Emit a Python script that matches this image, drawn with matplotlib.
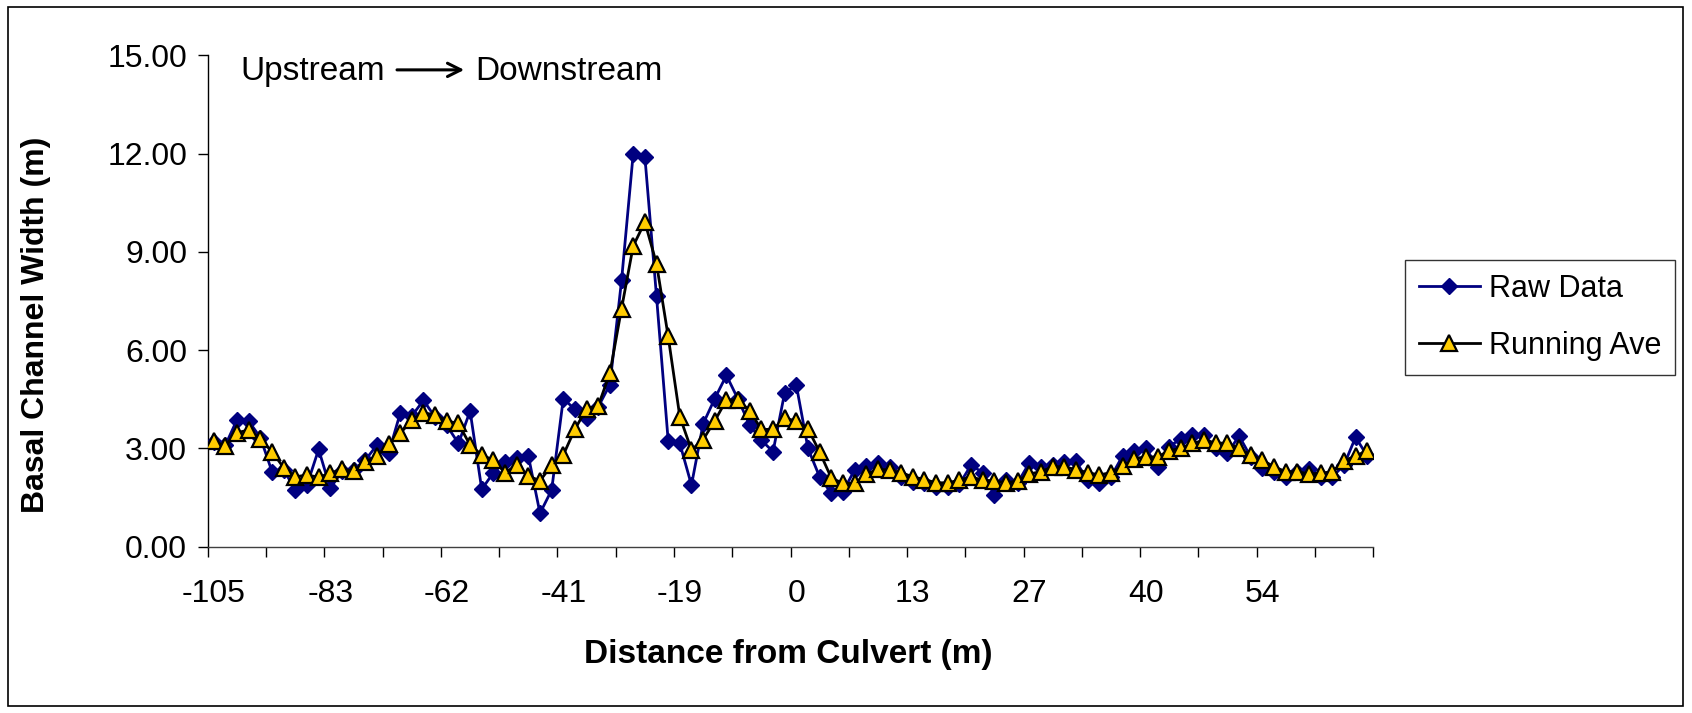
import numpy as np
import matplotlib.pyplot as plt
from matplotlib.patches import Rectangle

plt.rcParams['font.family'] = ['Liberation Sans', 'DejaVu Sans']

# Category labels shown on the x axis (every 10th station)
tick_labels = ['-105', '-83', '-62', '-41', '-19', '0', '13', '27', '40', '54']

# Basal channel width, raw measurements (m)
raw = [3.20, 3.10, 3.88, 3.83, 3.33, 2.29, 2.35, 1.73, 1.88, 2.97,
       1.78, 2.30, 2.35, 2.64, 3.10, 2.85, 4.07, 3.99, 4.47, 3.95,
       3.70, 3.15, 4.14, 1.75, 2.26, 2.59, 2.72, 2.77, 1.02, 1.73,
       4.52, 4.19, 3.92, 4.27, 4.95, 8.13, 12.00, 11.91, 7.64, 3.24,
       3.15, 1.88, 3.75, 4.52, 5.23, 4.50, 3.71, 3.25, 2.90, 4.70,
       4.93, 3.00, 2.13, 1.63, 1.68, 2.34, 2.46, 2.54, 2.44, 2.13,
       1.98, 1.95, 1.81, 1.83, 1.91, 2.49, 2.26, 1.58, 2.05, 1.95,
       2.56, 2.44, 2.49, 2.57, 2.60, 2.03, 1.95, 2.13, 2.77, 2.93,
       3.00, 2.44, 3.05, 3.30, 3.41, 3.41, 3.00, 2.85, 3.38, 2.74,
       2.39, 2.29, 2.13, 2.29, 2.36, 2.13, 2.13, 2.49, 3.34, 2.77]

# Running average (m)
run_ave = [3.22, 3.07, 3.48, 3.56, 3.28, 2.90, 2.41, 2.13, 2.19, 2.12,
           2.24, 2.37, 2.31, 2.57, 2.77, 3.12, 3.46, 3.86, 4.09, 4.02,
           3.84, 3.76, 3.10, 2.80, 2.64, 2.26, 2.49, 2.16, 2.01, 2.49,
           2.80, 3.59, 4.21, 4.30, 5.30, 7.27, 9.18, 9.91, 8.64, 6.42,
           3.97, 2.95, 3.27, 3.84, 4.48, 4.48, 4.15, 3.58, 3.58, 3.92,
           3.84, 3.60, 2.89, 2.10, 1.93, 1.93, 2.21, 2.36, 2.34, 2.26,
           2.13, 2.05, 1.95, 1.95, 2.03, 2.13, 2.03, 2.01, 1.95, 2.01,
           2.22, 2.29, 2.44, 2.44, 2.35, 2.26, 2.19, 2.26, 2.46, 2.69,
           2.74, 2.74, 2.93, 3.00, 3.15, 3.25, 3.17, 3.15, 3.00, 2.80,
           2.64, 2.44, 2.29, 2.29, 2.22, 2.24, 2.29, 2.62, 2.77, 2.93]

x = np.arange(len(raw))

fig = plt.figure(figsize=(16.92, 7.13), dpi=100)
ax = fig.add_axes([0.1229, 0.2333, 0.6886, 0.6891])

ax.plot(x, raw, color='#000080', lw=2, marker='D', ms=8.5,
        mfc='#000080', mec='#000080', label='Raw Data', zorder=3)
ax.plot(x, run_ave, color='black', lw=2, marker='^', ms=11,
        mfc='#FFCC00', mec='black', mew=1.6, label='Running Ave', zorder=4)

ax.set_xlim(-0.5, len(raw) - 0.5)
ax.set_ylim(0, 15)
ax.set_yticks(np.arange(0, 15.1, 3))
ax.set_yticklabels(['%.2f' % v for v in np.arange(0, 15.1, 3)])

# labels every 10 categories, tick marks every 5 category boundaries
ax.set_xticks(np.arange(0, 100, 10))
ax.set_xticklabels(tick_labels)
ax.set_xticks(np.arange(-0.5, 100, 5), minor=True)
ax.tick_params(axis='x', which='major', length=0, pad=23, labelsize=23)
ax.tick_params(axis='x', which='minor', length=7, width=1, direction='out')
ax.tick_params(axis='y', length=7, width=1, direction='out', pad=8, labelsize=23)

for s in ['top', 'right']:
    ax.spines[s].set_visible(False)
ax.spines['left'].set_linewidth(1)
ax.spines['bottom'].set_linewidth(1)
ax.spines['bottom'].set_color('#404040')

fig.text(0.0213, 0.545, 'Basal Channel Width (m)', rotation=90, fontsize=23,
         fontweight='bold', ha='center', va='center')
fig.text(0.466, 0.082, 'Distance from Culvert (m)', fontsize=24,
         fontweight='bold', ha='center', va='center')

fig.text(0.1418, 0.900, 'Upstream', fontsize=24, ha='left', va='center')
fig.text(0.2807, 0.900, 'Downstream', fontsize=24, ha='left', va='center')
ax.annotate('', xy=(0.276, 0.902), xytext=(0.233, 0.902),
            xycoords='figure fraction', textcoords='figure fraction',
            arrowprops=dict(arrowstyle='->', lw=2.2, color='black',
                            mutation_scale=24))

fig.legend(loc='center left', bbox_to_anchor=(0.8304, 0.555), fontsize=22,
           frameon=True, fancybox=False, edgecolor='black', handlelength=2.0,
           borderpad=0.45, labelspacing=0.9, handletextpad=0.3,
           borderaxespad=0)

fig.patches.append(Rectangle((0.0045, 0.0098), 0.990, 0.980, fill=False,
                             edgecolor='black', lw=1.2,
                             transform=fig.transFigure, figure=fig))

fig.savefig('out.png', dpi=100)
